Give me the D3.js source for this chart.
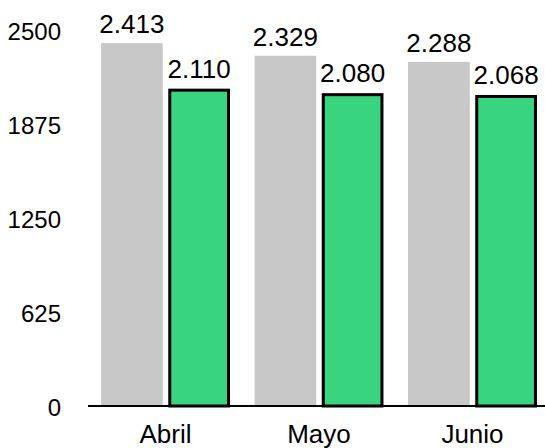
<!DOCTYPE html>
<html>
<head>
<meta charset="utf-8">
<script src="https://cdn.jsdelivr.net/npm/d3@7.9.0/dist/d3.min.js"></script>
<style>
  body { margin: 0; background: #fff; }
  text { font-family: "Liberation Sans", Arial, Helvetica, sans-serif; fill: #000; }
</style>
</head>
<body>
<svg id="chart" width="545" height="448"></svg>
<script>
const months = ["Abril", "Mayo", "Junio"];
const series = ["anterior", "actual"];
const anterior = [2413, 2329, 2288];
const actual = [2110, 2080, 2068];
const yTicks = [0, 625, 1250, 1875, 2500];

const svg = d3.select("#chart");

const x = d3.scaleBand()
    .domain(months)
    .range([88, 550])
    .paddingInner(0.16)
    .paddingOuter(0.085);

const xSub = d3.scaleBand()
    .domain(series)
    .range([0, x.bandwidth()])
    .paddingInner(0.082);

const y = d3.scaleLinear()
    .domain([0, 2500])
    .range([406, 30]);

const fmt = d3.formatLocale({ decimal: ",", thousands: ".", grouping: [3], currency: ["", "€"] }).format(",");

const data = months.map((m, i) => ({ month: m, anterior: anterior[i], actual: actual[i] }));

// y tick labels (no axis line)
svg.append("g").selectAll("text")
  .data(yTicks)
  .join("text")
    .attr("x", 61)
    .attr("y", d => y(d) + 2)
    .attr("dy", "0.35em")
    .attr("text-anchor", "end")
    .style("font-size", "24px")
    .text(d => d);

const groups = svg.append("g").selectAll("g")
  .data(data)
  .join("g")
    .attr("transform", d => `translate(${x(d.month)},0)`);

// grey bars
groups.append("rect")
    .attr("x", xSub("anterior"))
    .attr("y", d => y(d.anterior))
    .attr("width", xSub.bandwidth())
    .attr("height", d => y(0) - y(d.anterior))
    .attr("fill", "#c8c8c8");

// green bars with black outline
groups.append("rect")
    .attr("x", xSub("actual") + 1.5)
    .attr("y", d => y(d.actual) + 1.5)
    .attr("width", xSub.bandwidth() - 3)
    .attr("height", d => y(0) - y(d.actual) - 1.5)
    .attr("fill", "#38d480")
    .attr("stroke", "#000")
    .attr("stroke-width", 3);

// value labels
groups.append("text")
    .attr("x", xSub("anterior") + xSub.bandwidth() / 2)
    .attr("y", d => y(d.anterior) - 10)
    .attr("text-anchor", "middle")
    .style("font-size", "26px")
    .text(d => fmt(d.anterior));

groups.append("text")
    .attr("x", xSub("actual") + xSub.bandwidth() / 2)
    .attr("y", d => y(d.actual) - 11)
    .attr("text-anchor", "middle")
    .style("font-size", "26px")
    .text(d => fmt(d.actual));

// baseline
svg.append("line")
    .attr("x1", 88)
    .attr("x2", 545)
    .attr("y1", y(0))
    .attr("y2", y(0))
    .attr("stroke", "#000")
    .attr("stroke-width", 2);

// month labels
svg.append("g").selectAll("text")
  .data(months)
  .join("text")
    .attr("x", d => x(d) + x.bandwidth() / 2)
    .attr("y", 443)
    .attr("text-anchor", "middle")
    .style("font-size", "26px")
    .text(d => d);
</script>
</body>
</html>
